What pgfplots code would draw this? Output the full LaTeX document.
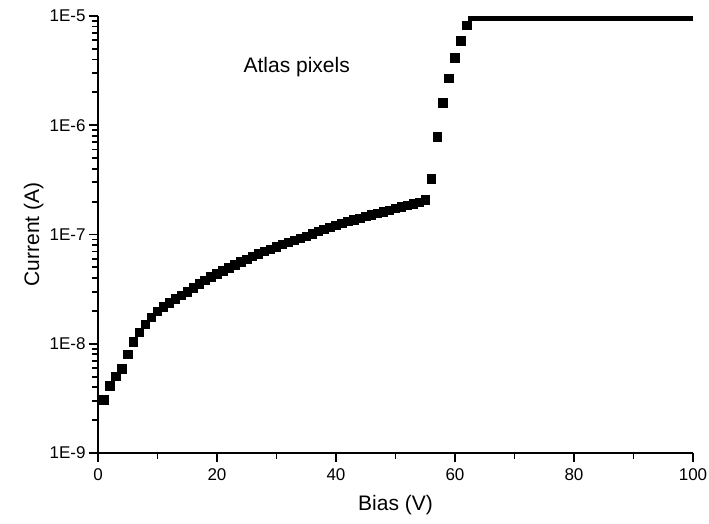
\documentclass[border=0pt]{standalone}
\usepackage{pgfplots}
\pgfplotsset{compat=1.18}
\usepackage{fontspec}
\setmainfont{Liberation Sans}
\begin{document}
\begin{tikzpicture}
\useasboundingbox (0,0) rectangle (354.5pt,262pt);
\begin{axis}[
  at={(49pt,35.5pt)},anchor=south west,
  scale only axis,width=297.5pt,height=218.5pt,
  ymode=log,log basis y=10,xmin=0,xmax=100,ymin=1e-9,ymax=1e-5,
  axis lines=left,axis line style={line width=0.9pt,-},
  every tick/.style={black,line width=0.9pt},
  tick align=outside,
  major tick length=4.5pt,
  xtick={0,20,40,60,80,100},
  ytick={1e-9,1e-8,1e-7,1e-6,1e-5},
  yticklabels={1E-9,1E-8,1E-7,1E-6,1E-5},
  extra x ticks={10,30,50,70,90},extra x tick labels={},
  extra y ticks={2e-9,3e-9,4e-9,5e-9,6e-9,7e-9,8e-9,9e-9,
    2e-8,3e-8,4e-8,5e-8,6e-8,7e-8,8e-8,9e-8,
    2e-7,3e-7,4e-7,5e-7,6e-7,7e-7,8e-7,9e-7,
    2e-6,3e-6,4e-6,5e-6,6e-6,7e-6,8e-6,9e-6},
  extra y tick labels={},
  extra tick style={major tick length=2.8pt,every tick/.style={black,line width=0.9pt}},
  /pgf/number format/assume math mode=true,
  tick label style={font=\fontsize{8.5}{10}\selectfont},
  yticklabel style={inner sep=1.5pt},
  label style={font=\fontsize{10.5}{12}\selectfont},
  xlabel={Bias (V)},ylabel={Current (A)},
  xlabel style={at={(axis description cs:0.5,-0.119)},anchor=center},
  ylabel style={at={(axis description cs:-0.108,0.5)},anchor=center},
  clip marker paths=true,
]
\addplot[only marks,mark=square*,mark size=2.1pt,black] coordinates {
(1,3.05e-9) (2,4.1e-9) (3,5.0e-9) (4,5.9e-9) (5,8.0e-9) (6,1.04e-8) (7,1.27e-8) (8,1.5e-8) (9,1.75e-8) (10,1.97e-8)
(11,2.17e-8) (12,2.37e-8) (13,2.57e-8) (14,2.77e-8) (15,2.98e-8) (16,3.25e-8) (17,3.52e-8) (18,3.80e-8) (19,4.08e-8) (20,4.36e-8)
(21,4.65e-8) (22,4.95e-8) (23,5.27e-8) (24,5.60e-8) (25,5.93e-8) (26,6.27e-8) (27,6.62e-8) (28,6.98e-8) (29,7.34e-8) (30,7.70e-8)
(31,8.08e-8) (32,8.46e-8) (33,8.84e-8) (34,9.23e-8) (35,9.62e-8) (36,1.015e-7) (37,1.062e-7) (38,1.11e-7) (39,1.16e-7) (40,1.21e-7)
(41,1.26e-7) (42,1.31e-7) (43,1.36e-7) (44,1.41e-7) (45,1.46e-7) (46,1.51e-7) (47,1.56e-7) (48,1.61e-7) (49,1.67e-7) (50,1.73e-7)
(51,1.79e-7) (52,1.85e-7) (53,1.91e-7) (54,1.97e-7) (55,2.07e-7) (56,3.22e-7) (57,7.8e-7) (58,1.6e-6) (59,2.7e-6) (60,4.15e-6)
(61,5.9e-6) (62,8.2e-6) (63,9.99e-6) (64,9.99e-6) (65,9.99e-6) (66,9.99e-6) (67,9.99e-6) (68,9.99e-6) (69,9.99e-6) (70,9.99e-6)
(71,9.99e-6) (72,9.99e-6) (73,9.99e-6) (74,9.99e-6) (75,9.99e-6) (76,9.99e-6) (77,9.99e-6) (78,9.99e-6) (79,9.99e-6) (80,9.99e-6)
(81,9.99e-6) (82,9.99e-6) (83,9.99e-6) (84,9.99e-6) (85,9.99e-6) (86,9.99e-6) (87,9.99e-6) (88,9.99e-6) (89,9.99e-6) (90,9.99e-6)
(91,9.99e-6) (92,9.99e-6) (93,9.99e-6) (94,9.99e-6) (95,9.99e-6) (96,9.99e-6) (97,9.99e-6) (98,9.99e-6) (99,9.99e-6) (100,9.99e-6)
};
\node[font=\fontsize{10.5}{12}\selectfont] at (axis cs:33.4,3.4e-6) {Atlas pixels};
\end{axis}
\end{tikzpicture}
\end{document}
